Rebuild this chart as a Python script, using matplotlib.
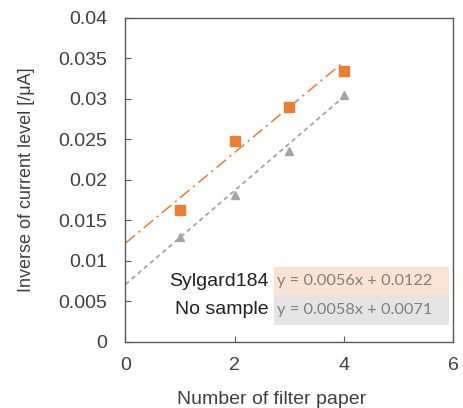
import matplotlib.pyplot as plt
from matplotlib.patches import Rectangle
import numpy as np

# data
n_paper = [1, 2, 3, 4]
sylgard = [0.0163, 0.0248, 0.0290, 0.0334]
no_sample = [0.0129, 0.0182, 0.0236, 0.0305]

# trendline coefficients (slope, intercept) as shown on the chart
sylgard_fit = [0.0056, 0.0122]
no_sample_fit = [0.0058, 0.0071]

orange = '#ED7D31'
gray = '#A5A5A5'

plt.rcParams['font.family'] = ['Liberation Sans', 'DejaVu Sans']

fig = plt.figure(figsize=(4.63, 4.08), dpi=100)
ax = fig.add_axes([0.271, 0.162, 0.708, 0.794])

# trendlines from x=0 to the last point
xt = np.array([0, n_paper[-1]])
ax.plot(xt, sylgard_fit[0] * xt + sylgard_fit[1], color=orange, lw=1.1,
        dashes=(8, 3, 1.5, 3), zorder=2)
ax.plot(xt, no_sample_fit[0] * xt + no_sample_fit[1], color=gray, lw=1.3,
        dashes=(2.5, 2), zorder=2)

ax.plot(n_paper, sylgard, 's', color=orange, ms=7.5, zorder=3)
ax.plot(n_paper, no_sample, '^', color=gray, ms=6, zorder=3)

ax.set_xlim(0, 6)
ax.set_ylim(0, 0.04)
ax.set_xticks([0, 2, 4, 6])
ax.set_yticks(np.arange(0, 0.0401, 0.005))
ax.set_yticklabels(['0', '0.005', '0.01', '0.015', '0.02', '0.025', '0.03', '0.035', '0.04'])
ax.tick_params(direction='in', length=4, color='#595959', labelsize=14,
               labelcolor='#404040')
ax.tick_params(axis='x', pad=11)
ax.tick_params(axis='y', pad=13)
for s in ax.spines.values():
    s.set_color('#595959')
    s.set_linewidth(1.0)

ax.set_xlabel('Number of filter paper', fontsize=14, color='#404040', labelpad=12)
ax.xaxis.label.set_x(0.447)
ax.set_ylabel('Inverse of current level [/μA]', fontsize=13, color='#404040', labelpad=17)
ax.yaxis.label.set_y(0.5)

# trendline equation labels
ax.add_patch(Rectangle((0.453, 0.145), 0.535, 0.086, transform=ax.transAxes,
                       facecolor='#FBE3D4', edgecolor='none', zorder=1))
ax.add_patch(Rectangle((0.453, 0.052), 0.535, 0.093, transform=ax.transAxes,
                       facecolor='#E4E4E4', edgecolor='none', zorder=1))
ax.text(0.438, 0.188, 'Sylgard184', transform=ax.transAxes, ha='right', va='center',
        fontsize=14, color='#202020')
ax.text(0.438, 0.099, 'No sample', transform=ax.transAxes, ha='right', va='center',
        fontsize=14, color='#202020')
ax.text(0.462, 0.188, f'y = {sylgard_fit[0]}x + {sylgard_fit[1]}', transform=ax.transAxes,
        ha='left', va='center', fontsize=11.8, color='#808080', family=['Lato', 'DejaVu Sans'])
ax.text(0.462, 0.099, f'y = {no_sample_fit[0]}x + {no_sample_fit[1]}', transform=ax.transAxes,
        ha='left', va='center', fontsize=11.8, color='#808080', family=['Lato', 'DejaVu Sans'])

fig.savefig('out.png', dpi=100)
